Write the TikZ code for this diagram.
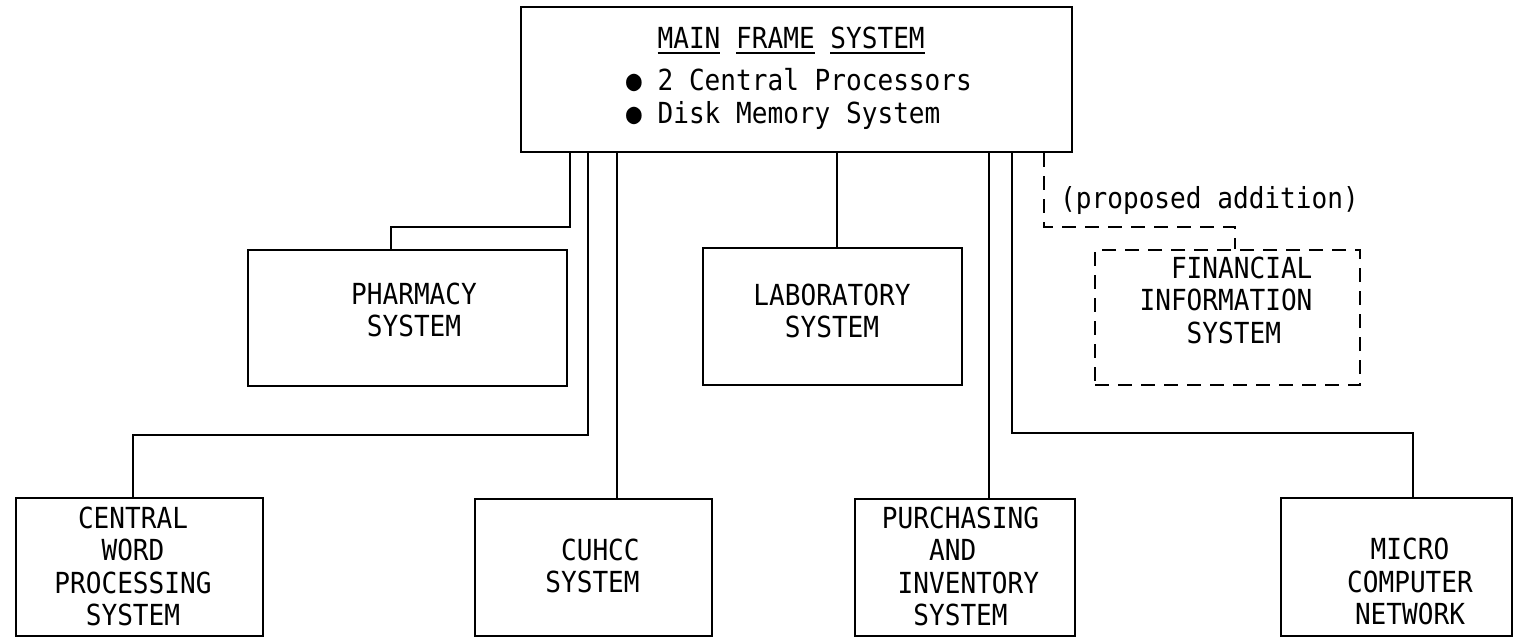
\documentclass[tikz,border=0pt]{standalone}
\usepackage{fontspec}
\newfontfamily\typer[FakeStretch=0.9]{DejaVu Sans Mono}
\newcommand\ulw[1]{\setbox0=\hbox{#1}\rlap{\rule[-6pt]{\wd0}{2pt}}\box0\relax}
\begin{document}
\begin{tikzpicture}[x=1pt,y=-1pt,
  box/.style={draw, line width=2pt, inner sep=0pt},
  dbox/.style={box, dash pattern=on 14pt off 9pt},
  txt/.style={font=\typer\fontsize{29}{32.5}\selectfont, inner sep=0pt},
  link/.style={line width=2pt},
  thinlink/.style={line width=1.3pt},
  dlink/.style={line width=1.6pt, dash pattern=on 14pt off 9pt}]
\useasboundingbox (0,0) rectangle (1514,638);

% boxes
\node[box, minimum width=551pt, minimum height=145pt] (main)  at (796.5,79.5) {};
\node[box, minimum width=319pt, minimum height=136pt] (pharm) at (407.5,318) {};
\node[box, minimum width=259pt, minimum height=137pt] (lab)   at (832.5,316.5) {};
\node[dbox, minimum width=265pt, minimum height=135pt] (fin)  at (1227.5,317.5) {};
\node[box, minimum width=247pt, minimum height=138pt] (cwp)   at (139.5,567) {};
\node[box, minimum width=237pt, minimum height=137pt] (cuhcc) at (593.5,567.5) {};
\node[box, minimum width=220pt, minimum height=137pt] (purch) at (965,567.5) {};
\node[box, minimum width=231pt, minimum height=138pt] (micro) at (1396.5,567) {};

% texts
\node[txt, align=left] (mainT) at (799,78)
  {\hphantom{XX}\ulw{MAIN} \ulw{FRAME} \ulw{SYSTEM}\\[10pt]● 2 Central Processors\\● Disk Memory System};
\node[txt, align=center] (pharmT) at (414,310) {PHARMACY\\SYSTEM};
\node[txt, align=center] (labT) at (832,311) {LABORATORY\\SYSTEM};
\node[txt, align=left] (finT) at (1226,300)
  {\hphantom{XX}FINANCIAL\\INFORMATION\\\hphantom{XXX}SYSTEM};
\node[txt, align=center] (cwpT) at (133,566.5) {CENTRAL\\WORD\\PROCESSING\\SYSTEM};
\node[txt, align=right] (cuhccT) at (592.5,566) {CUHCC\\SYSTEM};
\node[txt, align=left] (purchT) at (960.5,566.5)
  {PURCHASING\\\hphantom{XXX}AND\\\hphantom{X}INVENTORY\\\hphantom{XX}SYSTEM};
\node[txt, align=center] (microT) at (1410,581.5) {MICRO\\COMPUTER\\NETWORK};
\node[txt, anchor=base west] (prop) at (1060,208) {(proposed addition)};

% connectors
\draw[thinlink] (main.south -| 570,0) |- (391,227) -- (pharm.north -| 391,0);
\draw[thinlink] (main.south -| 588,0) |- (133,435) -- (cwp.north -| 133,0);
\draw[link] (main.south -| 617,0) -- (cuhcc.north -| 617,0);
\draw[link] (main.south -| 837,0) -- (lab.north -| 837,0);
\draw[thinlink] (main.south -| 989,0) -- (purch.north -| 989,0);
\draw[thinlink] (main.south -| 1012,0) |- (1413,433) -- (micro.north -| 1413,0);
\draw[dlink] (main.south -| 1044,0) |- (1235,227) -- (fin.north -| 1235,0);
\end{tikzpicture}
\end{document}
